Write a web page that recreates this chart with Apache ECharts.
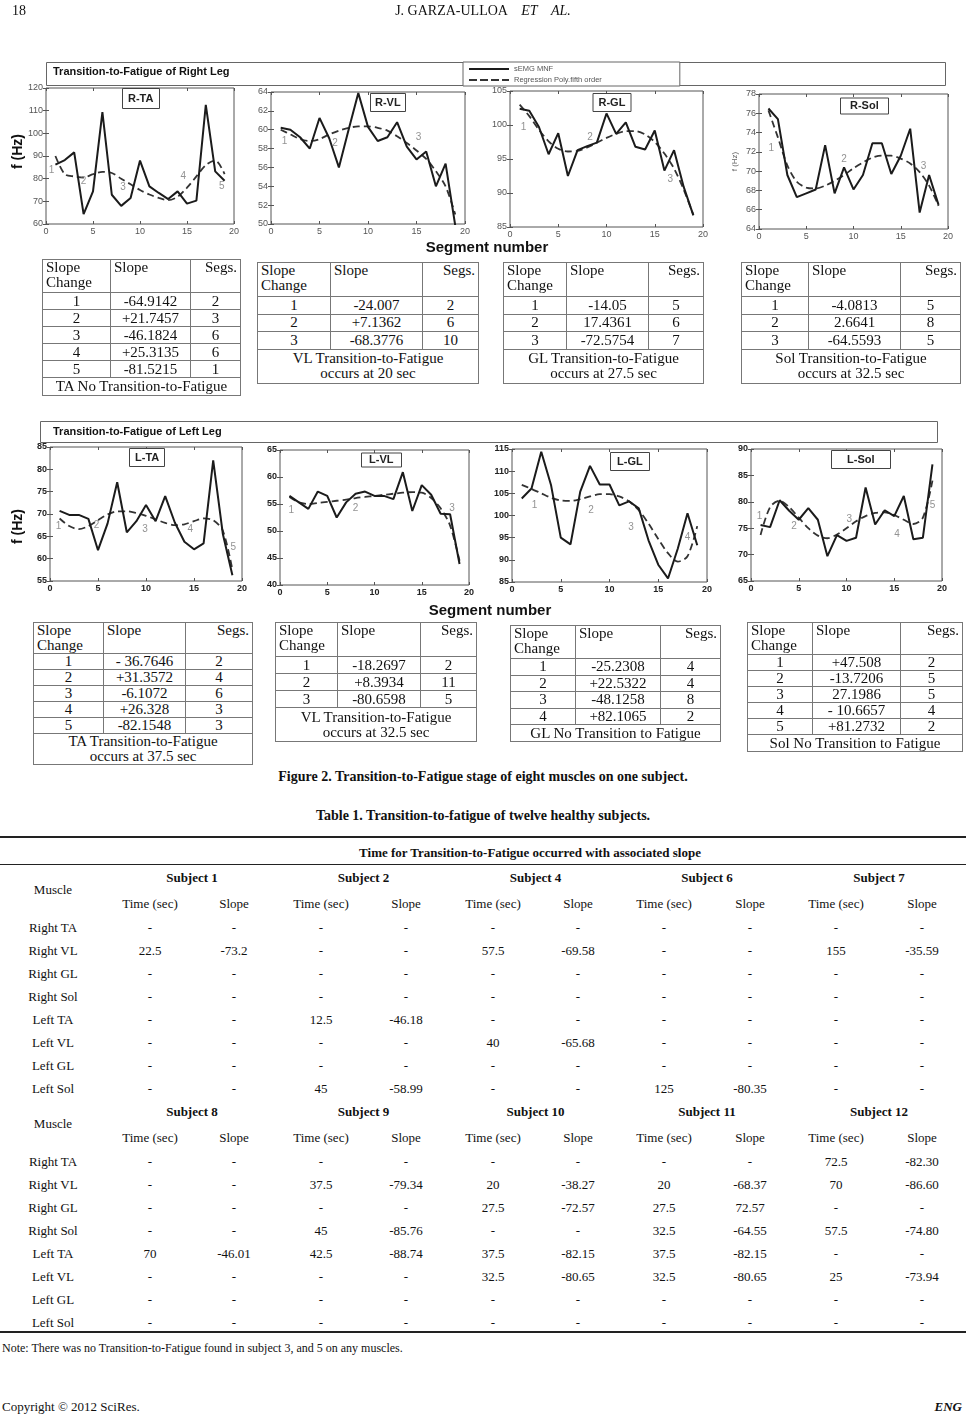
<!DOCTYPE html>
<html><head><meta charset="utf-8">
<script src="https://cdn.jsdelivr.net/npm/echarts@6.0.0/dist/echarts.min.js"></script>
<style>
html,body{margin:0;padding:0;background:#fff;}
#page{position:relative;width:966px;height:1414px;overflow:hidden;background:#fff;font-family:"Liberation Serif","DejaVu Serif",serif;color:#111;}
#fig{position:absolute;left:0;top:0;width:966px;height:760px;}
.t{position:absolute;white-space:nowrap;line-height:1;}
.st{position:absolute;border-collapse:collapse;table-layout:fixed;font-family:"Liberation Serif",serif;font-size:15px;color:#111;background:#fff;}
.st td{border:1px solid #777;padding:0 3px;line-height:15px;overflow:hidden;white-space:nowrap;}
.box{position:absolute;border:1px solid #666;background:#fff;}
.rule{position:absolute;left:0;width:966px;background:#222;}
</style></head>
<body><div id="page"><div id="fig"></div></div>
<script>
// ---------------- DATA ----------------
const segments = [1,2,3,4,5,6,7,8,9,10,11,12,13,14,15,16,17,18,19];
const panelNames = ['R-TA','R-VL','R-GL','R-Sol','L-TA','L-VL','L-GL','L-Sol'];
// sEMG MNF (solid)
const rTA  = [86.2,88.2,91.6,64.4,74.4,109.4,72.9,68,71.5,88,76.6,73.7,71,74.4,69,70.3,112.6,83.2,79.1];
const rVL  = [60.2,60.0,59.2,58.0,61.25,59.1,56.0,60.0,63.9,60.3,58.8,59.2,60.8,58.2,56.85,57.7,54.0,56.4,49.8];
const rGL  = [102.4,102.1,99.7,95.7,98.8,92.5,96.3,96.9,97.4,101.7,98.7,100.4,96.8,96.4,99.2,93.3,96.3,90.9,86.7];
const rSol = [76.5,75.4,69.6,67.3,67.7,68.1,72.7,67.7,70.4,68.1,69.6,72.9,72.9,69.7,71.6,74.4,65.7,69.6,66.5];
const lTA  = [70.7,69.8,69.8,68.9,61.9,67.9,77.1,65.9,68.4,72.0,68.4,74.0,68.1,63.8,62.1,63.4,82.0,65.6,56.3];
const lVL  = [56.5,55.3,54.1,57.3,56.5,52.5,55.3,56.9,57.3,56.5,56.5,55.9,60.9,53.7,58.5,56.7,53.2,53.1,43.9];
const lGL  = [103.85,106.1,114.4,106.9,95.0,93.5,105.4,111.2,107.0,107.0,102.3,103.2,101.6,94.4,88.9,85.8,92.5,100.5,93.3];
const lSol = [75.6,75.2,80.3,78.3,76.6,78.8,76.6,69.7,73.7,72.6,73.2,82.7,75.7,78.4,77.3,81.1,72.9,73.2,87.1];
// Regression Poly. fifth order (dashed)
const rTAreg  = [90,82,81,80.5,82,83,82.5,80,77.5,75,73,71.5,70.5,72,76,81,86,88,82];
const rVLreg  = [60,59.5,59.0,58.8,59.0,59.5,59.9,60.2,60.35,60.35,60.2,59.9,59.3,58.6,57.8,56.9,55.6,54,51];
const rGLreg  = [103.0,101.3,99.3,97.6,96.5,96.1,96.2,96.7,97.4,98.1,98.7,99.1,99.1,98.6,97.5,95.8,93.6,90.5,86.8];
const rSolreg = [76.3,73.5,70.6,68.9,68.3,68.2,68.5,69.0,69.6,70.3,70.9,71.4,71.6,71.6,71.3,70.8,69.9,68.5,66.4];
const lTAreg  = [69.0,67.3,66.6,67.3,68.6,69.9,70.6,70.6,70.2,69.6,68.8,68.0,67.5,67.7,68.4,69.0,68.6,66.3,57.5];
const lVLreg  = [56.3,55.3,55.0,55.2,55.4,55.6,55.8,56.1,56.3,56.5,56.7,56.9,57.1,57.2,57.1,56.1,54.2,51.0,44.5];
const lGLreg  = [106.9,106.0,105.0,104.0,103.4,103.3,103.7,104.3,104.8,104.8,104.3,103.2,101.2,98.2,94.7,91.5,89.6,90.8,97.6];
const lSolreg = [73.7,79.0,80.2,79.0,77.0,75.0,73.6,73.1,73.8,75.0,76.3,77.3,77.9,78.0,77.5,76.6,75.8,77.0,84];
// slope-change marks [x, y, label]
const rTAmarks  = [[0.6,83.5,'1'],[4,79,'2'],[8.2,76,'3'],[14.6,81,'4'],[18.7,76.6,'5']];
const rVLmarks  = [[1.4,58.8,'1'],[6.6,58.6,'2'],[15.2,59.2,'3']];
const rGLmarks  = [[1.4,99.6,'1'],[8.3,98.2,'2'],[16.6,92,'3']];
const rSolmarks = [[1.3,72.4,'1'],[9,71.2,'2'],[17.4,70.5,'3']];
const lTAmarks  = [[0.9,67.3,'1'],[4.85,67.5,'2'],[9.9,66.6,'3'],[14.6,66.5,'4'],[19.1,62.5,'5']];
const lVLmarks  = [[1.2,53.9,'1'],[8,54.2,'2'],[18.2,54.2,'3']];
const lGLmarks  = [[2.3,102.3,'1'],[8.1,101.2,'2'],[12.2,97.3,'3'],[18,95,'4']];
const lSolmarks = [[0.9,77.3,'1'],[4.5,75.4,'2'],[10.3,76.7,'3'],[15.3,73.8,'4'],[19,79.4,'5']];
// y axis ranges [min,max,interval]
const yRanges = [[60,120,10],[50,64,2],[85,105,5],[64,78,2],[55,85,5],[40,65,5],[85,115,5],[65,90,5]];
const xRange = [0,20,5];
const seriesNames = ['sEMG MNF','Regression Poly.fifth order'];

// slope tables
const slopeHeader = ['Slope<br>Change','Slope','Segs.'];
const tblRTA  = [['1','-64.9142','2'],['2','+21.7457','3'],['3','-46.1824','6'],['4','+25.3135','6'],['5','-81.5215','1']];
const tblRVL  = [['1','-24.007','2'],['2','+7.1362','6'],['3','-68.3776','10']];
const tblRGL  = [['1','-14.05','5'],['2','17.4361','6'],['3','-72.5754','7']];
const tblRSol = [['1','-4.0813','5'],['2','2.6641','8'],['3','-64.5593','5']];
const tblLTA  = [['1','- 36.7646','2'],['2','+31.3572','4'],['3','-6.1072','6'],['4','+26.328','3'],['5','-82.1548','3']];
const tblLVL  = [['1','-18.2697','2'],['2','+8.3934','11'],['3','-80.6598','5']];
const tblLGL  = [['1','-25.2308','4'],['2','+22.5322','4'],['3','-48.1258','8'],['4','+82.1065','2']];
const tblLSol = [['1','+47.508','2'],['2','-13.7206','5'],['3','27.1986','5'],['4','- 10.6657','4'],['5','+81.2732','2']];
const tblNotes = ['TA No Transition-to-Fatigue','VL Transition-to-Fatigue<br>occurs at 20 sec','GL Transition-to-Fatigue<br>occurs at 27.5 sec','Sol Transition-to-Fatigue<br>occurs at 32.5 sec',
  'TA Transition-to-Fatigue<br>occurs at 37.5 sec','VL Transition-to-Fatigue<br>occurs at 32.5 sec','GL No Transition to Fatigue','Sol No Transition to Fatigue'];

// Table 1
const muscles = ['Right TA','Right VL','Right GL','Right Sol','Left TA','Left VL','Left GL','Left Sol'];
const subjectsA = ['Subject 1','Subject 2','Subject 4','Subject 6','Subject 7'];
const subjectsB = ['Subject 8','Subject 9','Subject 10','Subject 11','Subject 12'];
const tableA = [
 ['-','-','-','-','-','-','-','-','-','-'],
 ['22.5','-73.2','-','-','57.5','-69.58','-','-','155','-35.59'],
 ['-','-','-','-','-','-','-','-','-','-'],
 ['-','-','-','-','-','-','-','-','-','-'],
 ['-','-','12.5','-46.18','-','-','-','-','-','-'],
 ['-','-','-','-','40','-65.68','-','-','-','-'],
 ['-','-','-','-','-','-','-','-','-','-'],
 ['-','-','45','-58.99','-','-','125','-80.35','-','-']];
const tableB = [
 ['-','-','-','-','-','-','-','-','72.5','-82.30'],
 ['-','-','37.5','-79.34','20','-38.27','20','-68.37','70','-86.60'],
 ['-','-','-','-','27.5','-72.57','27.5','72.57','-','-'],
 ['-','-','45','-85.76','-','-','32.5','-64.55','57.5','-74.80'],
 ['70','-46.01','42.5','-88.74','37.5','-82.15','37.5','-82.15','-','-'],
 ['-','-','-','-','32.5','-80.65','32.5','-80.65','25','-73.94'],
 ['-','-','-','-','-','-','-','-','-','-'],
 ['-','-','-','-','-','-','-','-','-','-']];

// ---------------- LAYOUT ----------------
const solids = [rTA,rVL,rGL,rSol,lTA,lVL,lGL,lSol];
const regs = [rTAreg,rVLreg,rGLreg,rSolreg,lTAreg,lVLreg,lGLreg,lSolreg];
const marks = [rTAmarks,rVLmarks,rGLmarks,rSolmarks,lTAmarks,lVLmarks,lGLmarks,lSolmarks];
const grids = [[46,88,188,136],[271,92,194,132],[510,91,193,136],[759,94,189,135],
               [50,447,192,134],[280,450,189,135],[512,449,195,133],[751,449,191,132]];
const tboxes = [[122,88],[370,93],[593,93],[840,98],[129,448],[361,453],[610,452],[831,450]];
const tpads = [[5,6],[4,5],[4,5.5],[2.5,10],[4,6],[1.5,8],[4,7],[4,16]];

const page = document.getElementById('page');
function T(x,y,html,css,align,rot){
  const d=document.createElement('div'); d.className='t'; d.innerHTML=html;
  d.style.cssText += css||''; d.style.left=x+'px'; d.style.top=y+'px';
  const tx = align==='c'?'-50%':(align==='r'?'-100%':'0');
  d.style.transform='translate('+tx+',-50%)'+(rot?' rotate('+rot+'deg)':'');
  if(rot) d.style.transformOrigin='0 0';
  page.appendChild(d); return d;
}
function B(x,y,w,h,cls,css){const d=document.createElement('div');d.className=cls||'box';
  d.style.cssText+='left:'+x+'px;top:'+y+'px;width:'+w+'px;height:'+h+'px;'+(css||'');page.appendChild(d);return d;}

// page header / footer
T(12,11,'18','font-size:14px;');
T(483,11,'J. GARZA-ULLOA &nbsp;&nbsp; <i>ET &nbsp;&nbsp; AL.</i>','font-size:14px;','c');
T(2,1406,'Copyright © 2012 SciRes.','font-size:13px;');
T(962,1406,'<b><i>ENG</i></b>','font-size:13px;','r');

// figure texts
const sans='font-family:"Liberation Sans",Arial,sans-serif;';
T(53,71,'Transition-to-Fatigue of Right Leg',sans+'font-size:11px;font-weight:bold;');
T(53,431,'Transition-to-Fatigue of Left Leg',sans+'font-size:11px;font-weight:bold;');
T(487,246,'Segment number',sans+'font-size:15px;font-weight:bold;','c');
T(490,609,'Segment number',sans+'font-size:15px;font-weight:bold;','c');
T(10,176,'f (Hz)',sans+'font-size:14px;font-weight:bold;',null,-90);
T(10,551,'f (Hz)',sans+'font-size:14px;font-weight:bold;',null,-90);

// slope tables
const tblData=[tblRTA,tblRVL,tblRGL,tblRSol,tblLTA,tblLVL,tblLGL,tblLSol];
const tblPos=[[42,259,[68,80,50],33,17,18],[257,262,[73,92,56],34,17.5,34],[503,262,[63,82,55],34,17.5,34],[741,262,[67,92,60],34,17.5,34],
              [33,622,[70,82,67],27,15,28],[275,622,[62,83,56],34,17,34],[510,625,[65,85,60],33,16.5,17],[747,622,[65,88,62],32,16,17]];
const sansNote=[true,false,false,false,false,false,true,true];
tblData.forEach((rows,i)=>{
  const p=tblPos[i]; const t=document.createElement('table'); t.className='st';
  t.style.left=p[0]+'px'; t.style.top=p[1]+'px';
  t.style.width=(p[2][0]+p[2][1]+p[2][2])+'px';
  let h='<colgroup>'+p[2].map(w=>'<col style="width:'+w+'px">').join('')+'</colgroup>';
  h+='<tr style="height:'+p[3]+'px"><td style="vertical-align:top;text-align:left">'+slopeHeader[0]+'</td><td style="vertical-align:top;text-align:left">'+slopeHeader[1]+'</td><td style="vertical-align:top;text-align:right">'+slopeHeader[2]+'</td></tr>';
  rows.forEach(r=>{h+='<tr style="height:'+p[4]+'px">'+r.map(c=>'<td style="text-align:center">'+c+'</td>').join('')+'</tr>';});
  const nstyle=sansNote[i]?sans+'font-size:12.5px;':'font-size:15px;';
  h+='<tr style="height:'+p[5]+'px"><td colspan="3" style="text-align:center;'+nstyle+'">'+tblNotes[i]+'</td></tr>';
  t.innerHTML=h; page.appendChild(t);
});

// captions
T(483,777,'Figure 2. Transition-to-Fatigue stage of eight muscles on one subject.','font-size:14px;font-weight:bold;','c');
T(483,816,'Table 1. Transition-to-fatigue of twelve healthy subjects.','font-size:14px;font-weight:bold;','c');

// Table 1
B(0,836,966,1.5,'rule');
T(530,852,'Time for Transition-to-Fatigue occurred with associated slope','font-size:13px;font-weight:bold;','c');
B(0,864,966,1,'rule');
const colX=[150,234,321,406,493,578,664,750,836,922];
function block(subjects,data,y0){
  T(53,y0+12,'Muscle','font-size:13px;','c');
  subjects.forEach((s,k)=>T((colX[2*k]+colX[2*k+1])/2,y0,s,'font-size:13px;font-weight:bold;','c'));
  for(let k=0;k<5;k++){T(colX[2*k],y0+26,'Time (sec)','font-size:13px;','c');T(colX[2*k+1],y0+26,'Slope','font-size:13px;','c');}
  data.forEach((row,r)=>{
    T(53,y0+50+23*r,muscles[r],'font-size:13px;','c');
    row.forEach((v,c)=>T(colX[c],y0+50+23*r,v,'font-size:13px;','c'));
  });
}
block(subjectsA,tableA,877);
block(subjectsB,tableB,1111);
B(0,1331,966,1.5,'rule');
T(2,1348,'Note: There was no Transition-to-Fatigue found in subject 3, and 5 on any muscles.','font-size:12px;');

// ---------------- CHART ----------------
const solidIcon='path://M0 0H40V2H0Z';
const dashIcon='path://M0 0H8V2H0Z M11 0H19V2H11Z M22 0H30V2H22Z M33 0H40V2H33Z';
const chart = echarts.init(document.getElementById('fig'),null,{renderer:'canvas'});
const option = {animation:false,grid:[],xAxis:[],yAxis:[],series:[],title:[],
  graphic:[
    {type:'rect',shape:{x:46.5,y:62.5,width:899,height:23},style:{fill:'#fff',stroke:'#666',lineWidth:1},z:0,silent:true},
    {type:'rect',shape:{x:40.5,y:421.5,width:897,height:21},style:{fill:'#fff',stroke:'#666',lineWidth:1},z:0,silent:true}],
  legend:{data:[{name:seriesNames[0],icon:solidIcon},{name:seriesNames[1],icon:dashIcon}],orient:'vertical',left:463,top:62,
    itemWidth:40,itemHeight:2,itemGap:1,padding:[2,78,1,6],z:10,
    textStyle:{fontSize:7.5,color:'#555',fontFamily:'Liberation Sans',lineHeight:10},borderColor:'#666',borderWidth:1,backgroundColor:'#fff',selectedMode:false}};
for(let i=0;i<8;i++){
  const g=grids[i], bold=i>=4;
  option.grid.push({left:g[0],top:g[1],width:g[2],height:g[3],show:true,borderColor:'#555',borderWidth:1,backgroundColor:'#fff'});
  const lab={fontSize:9,color:bold?'#222':'#555',fontWeight:bold?'bold':'normal',fontFamily:'Liberation Sans',margin:3};
  const base={gridIndex:i,type:'value',axisLine:{show:false},splitLine:{show:false},axisTick:{inside:true,length:3,lineStyle:{color:'#555'}}};
  option.xAxis.push(Object.assign({},base,{min:xRange[0],max:xRange[1],interval:xRange[2],axisLabel:lab}));
  option.xAxis.push(Object.assign({},base,{min:xRange[0],max:xRange[1],interval:xRange[2],position:'top',axisLabel:{show:false}}));
  const yr=yRanges[i];
  const ya=Object.assign({},base,{min:yr[0],max:yr[1],interval:yr[2],axisLabel:lab});
  if(i===3){ya.name='f (Hz)';ya.nameLocation='middle';ya.nameGap=20;ya.nameTextStyle={fontSize:8,color:'#666',fontFamily:'Liberation Sans'};}
  option.yAxis.push(ya);
  option.yAxis.push(Object.assign({},base,{min:yr[0],max:yr[1],interval:yr[2],position:'right',axisLabel:{show:false}}));
  option.series.push({type:'line',name:seriesNames[0],xAxisIndex:2*i,yAxisIndex:2*i,symbol:'none',clip:true,
    data:solids[i].map((v,k)=>[segments[k],v]),lineStyle:{color:'#1b1b1b',width:2},itemStyle:{color:'#1b1b1b'},z:3});
  option.series.push({type:'line',name:seriesNames[1],xAxisIndex:2*i,yAxisIndex:2*i,symbol:'none',smooth:0.3,clip:true,
    data:regs[i].map((v,k)=>[segments[k],v]),lineStyle:{color:'#333',width:1.8,type:[7,4]},itemStyle:{color:'#333'},z:2});
  option.series.push({type:'scatter',xAxisIndex:2*i,yAxisIndex:2*i,symbolSize:0,silent:true,
    data:marks[i].map(m=>({value:[m[0],m[1]],name:m[2]})),
    label:{show:true,position:'inside',formatter:p=>p.name,fontSize:10,color:'#777',fontFamily:'Liberation Sans'},z:4});
  option.title.push({text:panelNames[i],left:tboxes[i][0],top:tboxes[i][1],padding:tpads[i],borderColor:'#444',borderWidth:1,backgroundColor:'#fff',
    textStyle:{fontSize:11,fontWeight:'bold',color:'#222',fontFamily:'Liberation Sans'}});
}
chart.setOption(option);
</script>
</body></html>
